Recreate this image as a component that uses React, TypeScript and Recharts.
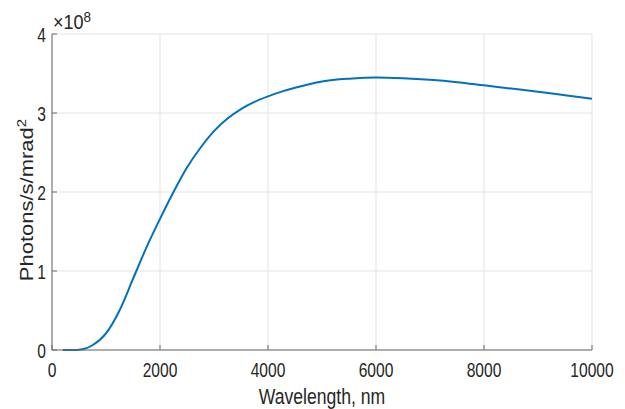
import React from 'react';
import {
  LineChart,
  Line,
  XAxis,
  YAxis,
  CartesianGrid,
  Label,
} from 'recharts';

// wavelength in nm, photon flux in units of 1e8 photons/s/mrad^2
const wavelengths = [
  200, 400, 500, 600, 750, 1000, 1250, 1500, 1750, 2000, 2250, 2500, 2750,
  3000, 3250, 3500, 3750, 4000, 4250, 4500, 5000, 5500, 6000, 6500, 7000,
  7500, 8000, 8500, 9000, 9500, 10000,
];
const flux = [
  0, 0.001, 0.004, 0.015, 0.06, 0.21, 0.5, 0.9, 1.3, 1.66, 2.0, 2.31, 2.56,
  2.77, 2.93, 3.05, 3.14, 3.21, 3.27, 3.32, 3.4, 3.435, 3.45, 3.44, 3.42,
  3.39, 3.35, 3.31, 3.27, 3.225, 3.18,
];
const xTicks = [0, 2000, 4000, 6000, 8000, 10000];
const yTicks = [0, 1, 2, 3, 4];

const FONT = '"Liberation Sans", Arial, Helvetica, sans-serif';
const TEXT = '#262626';
const AXIS = '#6b6b6b';
const GRID = '#e3e3e3';
const LINE = '#0072BD';
const SQUISH = 0.8;

const chartData = wavelengths.map((w, i) => ({ wavelength: w, flux: flux[i] }));

const BottomTick = (props: any) => {
  const { x, y, payload } = props;
  return (
    <g>
      <line x1={x} y1={y} x2={x} y2={y - 5} stroke={AXIS} />
      <text
        transform={`translate(${x},${y + 27}) scale(${SQUISH},1)`}
        textAnchor="middle"
        fontSize={19.5}
        fontFamily={FONT}
        fill={TEXT}
      >
        {payload.value}
      </text>
    </g>
  );
};

const TopTick = (props: any) => {
  const { x, y } = props;
  return <line x1={x} y1={y} x2={x} y2={y + 5} stroke={AXIS} />;
};

const LeftTick = (props: any) => {
  const { x, y, payload } = props;
  return (
    <g>
      <line x1={x} y1={y} x2={x + 5} y2={y} stroke={AXIS} />
      <text
        transform={`translate(${x - 6},${y + 1}) scale(${SQUISH},1)`}
        textAnchor="end"
        dominantBaseline="central"
        fontSize={19.5}
        fontFamily={FONT}
        fill={TEXT}
      >
        {payload.value}
      </text>
    </g>
  );
};

const RightTick = (props: any) => {
  const { x, y } = props;
  return <line x1={x} y1={y} x2={x - 5} y2={y} stroke={AXIS} />;
};

const XTitle = () => (
  <text
    transform={`translate(322,404) scale(${SQUISH},1)`}
    textAnchor="middle"
    fontSize={22}
    fontFamily={FONT}
    fill={TEXT}
  >
    Wavelength, nm
  </text>
);

// y-axis title plus the MATLAB-style exponent above the axis
const YTitle = () => (
  <g>
    <text
      transform={`translate(33,200) rotate(-90) scale(1,${SQUISH})`}
      textAnchor="middle"
      fontSize={22}
      fontFamily={FONT}
      fill={TEXT}
    >
      Photons/s/mrad
      <tspan fontSize={15} dy={-9}>
        2
      </tspan>
    </text>
    <text
      transform="translate(53,29) scale(0.9,1)"
      fontSize={20}
      fontFamily={FONT}
      fill={TEXT}
    >
      ×10
      <tspan fontSize={15} dy={-7}>
        8
      </tspan>
    </text>
  </g>
);

export default function App() {
  return (
    <div style={{ position: 'absolute', left: 0, top: 0, background: '#fff' }}>
      <LineChart
        width={625}
        height={409}
        data={chartData}
        margin={{ top: 34, right: 33, bottom: 0, left: 0 }}
      >
        <CartesianGrid stroke={GRID} />
        <XAxis
          dataKey="wavelength"
          type="number"
          domain={[0, 10000]}
          ticks={xTicks}
          interval={0}
          height={59}
          tickSize={0}
          tickMargin={0}
          tick={<BottomTick />}
          tickLine={false}
          axisLine={{ stroke: AXIS }}
        >
          <Label content={<XTitle />} />
        </XAxis>
        <XAxis
          xAxisId="top"
          orientation="top"
          dataKey="wavelength"
          type="number"
          domain={[0, 10000]}
          ticks={xTicks}
          interval={0}
          height={0}
          tickSize={0}
          tickMargin={0}
          tick={<TopTick />}
          tickLine={false}
          axisLine={{ stroke: AXIS }}
        />
        <YAxis
          type="number"
          domain={[0, 4]}
          ticks={yTicks}
          interval={0}
          width={52}
          tickSize={0}
          tickMargin={0}
          tick={<LeftTick />}
          tickLine={false}
          axisLine={{ stroke: AXIS }}
        >
          <Label content={<YTitle />} />
        </YAxis>
        <YAxis
          yAxisId="right"
          orientation="right"
          type="number"
          domain={[0, 4]}
          ticks={yTicks}
          interval={0}
          width={0}
          tickSize={0}
          tickMargin={0}
          tick={<RightTick />}
          tickLine={false}
          axisLine={{ stroke: AXIS }}
        />
        <Line
          type="monotone"
          dataKey="flux"
          stroke={LINE}
          strokeWidth={2}
          dot={false}
          activeDot={false}
          isAnimationActive={false}
        />
      </LineChart>
    </div>
  );
}
